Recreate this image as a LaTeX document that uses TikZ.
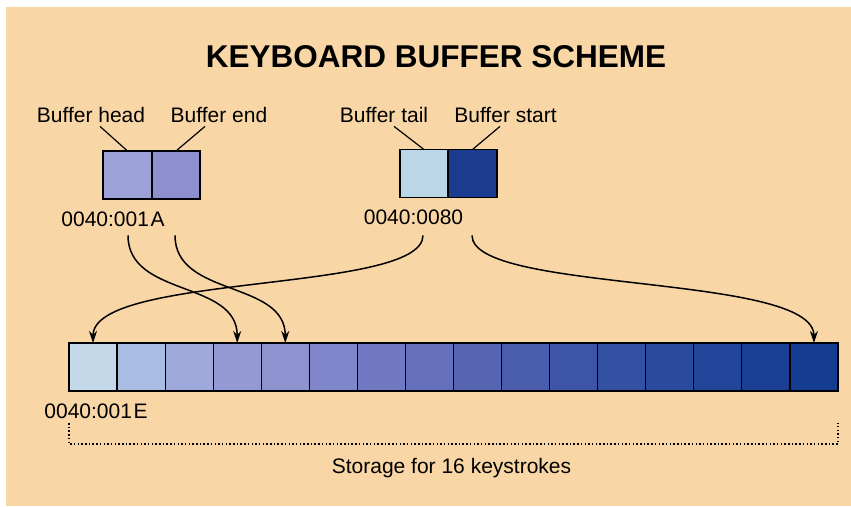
\documentclass[tikz,border=0pt]{standalone}
\usepackage{fontspec}
\setmainfont{Liberation Sans}
\usepackage{tikz}
\usetikzlibrary{arrows.meta, positioning, calc}
\definecolor{paper}{HTML}{F9D6A6}
\definecolor{bhead}{HTML}{9DA2D8}
\definecolor{bend}{HTML}{8E8FCE}
\definecolor{btail}{HTML}{BBD6E6}
\definecolor{bstart}{HTML}{1B3B8E}
\tikzset{
  cell/.style={rectangle, draw=black, line width=1.2pt, minimum width=48.06pt, minimum height=48pt, inner sep=0pt, outer sep=0pt},
  lbl/.style={font=\fontsize{21}{24}\selectfont, inner sep=0pt, anchor=base},
  leader/.style={line width=1.2pt},
  arrow/.style={-{Stealth[length=12pt, width=8pt]}, line width=1.5pt},
  dots/.style={line width=1.5pt, dash pattern=on 1.5pt off 2.2pt},
}
\begin{document}
\begin{tikzpicture}[x=1pt, y=-1pt]
\useasboundingbox (0,0) rectangle (851,506);
\fill[white] (0,0) rectangle (851,506);
\fill[paper] (6,7) rectangle (851,506);
% title
\node[lbl, font=\fontsize{31.5}{36}\selectfont\bfseries] (title) at (436,67) {KEYBOARD BUFFER SCHEME};
% pointer words
\node[cell, fill=bhead, minimum width=49pt] (bh) at (127.5,175) {};
\node[cell, fill=bend, minimum width=48pt, right=0pt of bh] (be) {};
\node[cell, fill=btail, minimum width=48pt] (bt) at (424,173.5) {};
\node[cell, fill=bstart, minimum width=49pt, right=0pt of bt] (bs) {};
\node[lbl] (lhead) at (91,122) {Buffer head};
\node[lbl] (lend) at (219,122) {Buffer end};
\node[lbl] (ltail) at (384,122) {Buffer tail};
\node[lbl] (lstart) at (505.5,122) {Buffer start};
\draw[leader] ([xshift=9pt,yshift=-4pt]lhead.south) -- (bh.north);
\draw[leader] ([xshift=-14pt,yshift=-4pt]lend.south) -- (be.north);
\draw[leader] ([xshift=10pt,yshift=-4pt]ltail.south) -- (bt.north);
\draw[leader] ([xshift=-5.5pt,yshift=-4pt]lstart.south) -- (bs.north);
\node[lbl] (a1A) at (113,226) {0040:001\kern1.5pt A};
\node[lbl] (a80) at (413.5,224) {0040:0080};
% storage cells
\foreach \i/\c in {1/C3D9E9, 2/A9BCE2, 3/9EA8DB, 4/9499D3, 5/8E92CF, 6/8086CA, 7/7279C3, 8/6570BC,
                   9/5565B2, 10/4A5DAC, 11/3E55A7, 12/3350A2, 13/2A4A9E, 14/204599, 15/1A4095, 16/143C91}{
  \definecolor{cellc}{HTML}{\c}
  \node[cell, fill=cellc] (c\i) at ({69+48.06*(\i-0.5)},367) {};
}
\node[lbl] (a1E) at (96,418) {0040:001\kern1.5pt E};
% pointers into the buffer
\draw[arrow] ([xshift=15pt,yshift=-9pt]a1A.south) .. controls +(0,-62pt) and +(0,63pt) .. (c4.north);
\draw[arrow] ([xshift=62pt,yshift=-9pt]a1A.south) .. controls +(0,-62pt) and +(0,63pt) .. (c5.north);
\draw[arrow] ([xshift=9.5pt,yshift=-11pt]a80.south) .. controls +(0,-58pt) and +(0,70pt) .. (c1.north);
\draw[arrow] ([xshift=58.5pt,yshift=-11pt]a80.south) .. controls +(0,-58pt) and +(0,70pt) .. (c16.north);
% storage bracket
\draw[dots] ([yshift=-32pt]c1.south west) -- ++(0,-21pt) -| ([yshift=-32pt]c16.south east);
\node[lbl] (store) at (451.5,473) {Storage for 16 keystrokes};
\end{tikzpicture}
\end{document}
